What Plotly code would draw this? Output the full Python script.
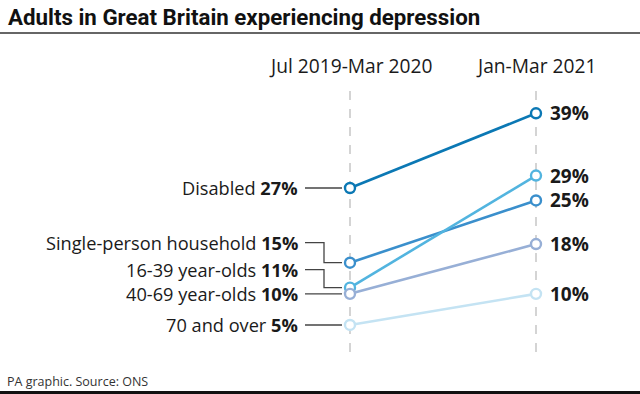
import plotly.graph_objects as go

# ---- data ----
periods = ["Jul 2019-Mar 2020", "Jan-Mar 2021"]
groups = ["Disabled", "Single-person household", "16-39 year-olds", "40-69 year-olds", "70 and over"]
before = [27, 15, 11, 10, 5]
after = [39, 25, 29, 18, 10]
colors = ["#0b78b4", "#3a8fcc", "#52b4df", "#97afd6", "#c4e3f3"]
label_shift = [0, 20, 18, 0, 0]      # label offset (px) above its point
elbow = [False, True, True, False, False]

W, H = 640, 394
X0PX, X1PX = 350, 536
PX_PER_UNIT = 6.227
Y_REF_PX, Y_REF_VAL = 188, 27

def px_to_val(py):
    return Y_REF_VAL + (Y_REF_PX - py) / PX_PER_UNIT

dx = X1PX - X0PX
xr = [-X0PX / dx, (W - X0PX) / dx]
yr = [px_to_val(H), px_to_val(0)]

FONT = "Open Sans"
fig = go.Figure()

# dashed guides
for xi in [0, 1]:
    fig.add_shape(type="line", xref="x", yref="paper", x0=xi, x1=xi,
                  y0=1 - 352 / H, y1=1 - 83 / H,
                  line=dict(color="#bdbdbd", width=1.3, dash="dash"), layer="below")

# slope lines
for g, b, a, c in zip(groups, before, after, colors):
    fig.add_trace(go.Scatter(
        x=[0, 1], y=[b, a], mode="lines+markers",
        line=dict(color=c, width=2.6),
        marker=dict(size=10, color="white", line=dict(color=c, width=2.4)),
        hoverinfo="skip", showlegend=False, cliponaxis=False))

# left labels + leaders
for g, b, s, e in zip(groups, before, label_shift, elbow):
    fig.add_annotation(x=0, y=b, xref="x", yref="y", xanchor="right", yanchor="middle",
                       xshift=-50, yshift=s, showarrow=False,
                       text=f"{g} <b>{b}%</b>",
                       font=dict(family=FONT, size=18.2, color="#1a1a1a"))
    if e:
        path = f"M -45 {s} L -26 {s} L -26 0 L -8 0"
    else:
        path = "M -45 0 L -8 0"
    fig.add_shape(type="path", xref="x", yref="y", xsizemode="pixel", ysizemode="pixel",
                  xanchor=0, yanchor=b, path=path,
                  line=dict(color="#444444", width=1.3), layer="below")

# right labels
for a in after:
    fig.add_annotation(x=1, y=a, xref="x", yref="y", xanchor="right", yanchor="middle",
                       xshift=55, showarrow=False, text=f"<b>{a}%</b>",
                       font=dict(family=FONT, size=19, color="#1a1a1a"))

# period headers
for xi, p in enumerate(periods):
    fig.add_annotation(x=xi, y=1 - 66 / H, xref="x", yref="paper", xanchor="center",
                       yanchor="middle", showarrow=False, text=p,
                       font=dict(family=FONT, size=19.2, color="#1a1a1a"))

# title, rules, footer
fig.add_annotation(x=6 / W, y=1 - 17 / H, xref="paper", yref="paper", xanchor="left",
                   yanchor="middle", showarrow=False,
                   text="<b>Adults in Great Britain experiencing depression</b>",
                   font=dict(family="Roboto", size=22.3, color="#111111"))
fig.add_shape(type="line", xref="paper", yref="paper", x0=0, x1=1,
              y0=1 - 33 / H, y1=1 - 33 / H, line=dict(color="#333333", width=1.5))
fig.add_shape(type="line", xref="paper", yref="paper", x0=0, x1=1,
              y0=1.5 / H, y1=1.5 / H, line=dict(color="#111111", width=3))
fig.add_annotation(x=5 / W, y=1 - 381 / H, xref="paper", yref="paper", xanchor="left",
                   yanchor="middle", showarrow=False, text="PA graphic. Source: ONS",
                   font=dict(family=FONT, size=12.5, color="#333333"))

fig.update_layout(
    width=W, height=H, margin=dict(l=0, r=0, t=0, b=0),
    paper_bgcolor="white", plot_bgcolor="white",
    xaxis=dict(range=xr, visible=False, fixedrange=True),
    yaxis=dict(range=yr, visible=False, fixedrange=True),
)
fig.write_html("out.html", config={"displayModeBar": False, "staticPlot": True},
               post_script="document.body.style.margin='0';document.body.style.overflow='hidden';")
